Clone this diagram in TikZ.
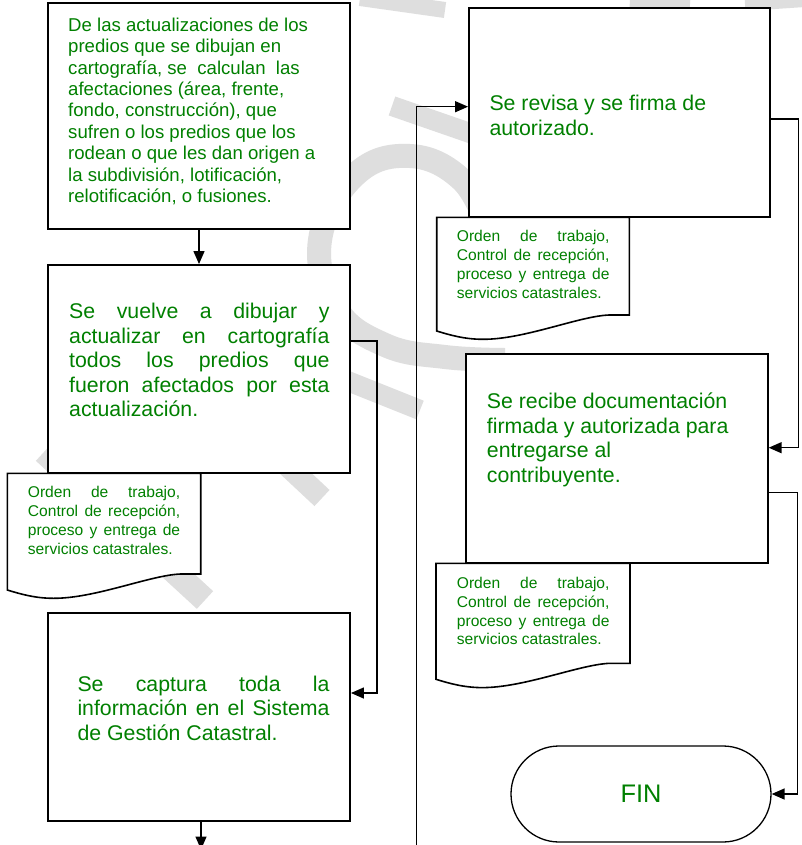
\documentclass[tikz,border=0pt]{standalone}
\usepackage{fontspec}
\setmainfont{Liberation Sans}
\usetikzlibrary{arrows.meta}
\definecolor{txtgreen}{RGB}{0,128,0}
\definecolor{wmgray}{RGB}{222,222,222}
\newcommand\myfA{\fontsize{18.6pt}{21.4pt}\selectfont}
\newcommand\myfB{\fontsize{21.3pt}{24.5pt}\selectfont}
\newcommand\myfC{\fontsize{15.6pt}{18.9pt}\selectfont}
\newcommand\myfD{\fontsize{25.4pt}{30pt}\selectfont}
% document shape: L, T, R, yR
\newcommand\mydocshape[4]{%
  \draw[docs] (#1,#2) -- (#3,#2) -- (#3,#4) -- ({#3-20},#4)
    .. controls ({#3-50},{#4+1}) and ({#1+88},{#4+24.5}) .. ({#1+46},{#4+24.3})
    .. controls ({#1+28},{#4+24.3}) and ({#1+13},{#4+20}) .. (#1,{#4+16}) -- cycle;}
\begin{document}
\begin{tikzpicture}[x=1pt,y=-1pt,
  box/.style={draw=black,line width=1.9pt,fill=white,inner sep=0pt},
  txt/.style={inner sep=0pt,anchor=base west,text=txtgreen},
  conn/.style={draw=black,line width=1.4pt},
  arr/.style={conn,-{Triangle[length=13pt,width=11pt]}},
  docs/.style={draw=black,line width=1.6pt,fill=white},
  wm/.style={draw=wmgray,line width=24pt}]
\useasboundingbox (0,0) rectangle (801,845);
\fill[white] (0,0) rectangle (801,845);

% watermark strokes
\draw[wm] plot[smooth,tension=0.7] coordinates {(488,228) (462,180) (410,156) (355,175) (320,240) (336,308) (385,345) (445,357) (505,360)};
\draw[wm,line width=20pt] (392,106) -- (490,140);
\draw[wm,line width=20pt] (300,362) -- (420,410);
\draw[wm] (44,452) -- (205,600);
\draw[wm,line width=22pt] (260,440) -- (322,498);
\draw[wm,line width=16pt] (360,-2) -- (445,10);
\draw[wm,line width=14pt] (630,0) -- (690,4);
\draw[wm,line width=14pt] (745,4) -- (805,0);

% process boxes
\node[box,minimum width=302pt,minimum height=226pt] (box1) at (199,116) {};
\node[box,minimum width=302pt,minimum height=208pt] (box2) at (199,369) {};
\node[box,minimum width=302pt,minimum height=208pt] (box4) at (199,717) {};
\node[box,minimum width=301pt,minimum height=209pt] (box3) at (619.5,112.5) {};
\node[box,minimum width=301.7pt,minimum height=209pt] (box5) at (616.85,458.8) {};
\node[draw=black,line width=1.3pt,fill=white,rounded corners=48pt,minimum width=260pt,minimum height=96pt,inner sep=0pt,text=txtgreen,font=\myfD] (fin) at (641,794) {FIN};

% document shapes
\mydocshape{7.3}{473.3}{200.7}{574}
\mydocshape{436.7}{217.3}{629.3}{315}
\mydocshape{436}{563.3}{630}{663.3}

% connectors
\coordinate (k1) at (377,341);
\coordinate (k2) at (377,693);
\coordinate (k3) at (798.3,119);
\coordinate (k4) at (798.3,447.7);
\coordinate (k5) at (797.3,492.7);
\coordinate (k6) at (797.3,794);
\coordinate (k7) at (416.7,852);
\coordinate (k8) at (416.7,106.7);
\coordinate (k9) at (201,849.5);
\draw[arr] (box1.south) -- (box2.north);
\draw[arr] (box2.east |- k1) -- (k1) -- (k2) -- (k2 -| box4.east);
\draw[arr] (box3.east |- k3) -- (k3) -- (k4) -- (k4 -| box5.east);
\draw[arr] (box5.east |- k5) -- (k5) -- (k6) -- (fin.east);
\draw[arr] (k7) -- (k8) -- (k8 -| box3.west);
\draw[arr] (box4.south -| k9) -- (k9);

% texts
\node[txt,font=\myfA] (t1) at (68,31.3) {\parbox[t]{285pt}{%
De las actualizaciones de los\\
predios que se dibujan en\\
cartografía, se\ \ calculan\ \ las\\
afectaciones (área, frente,\\
fondo, construcción), que\\
sufren o los predios que los\\
rodean o que les dan origen a\\
la subdivisión, lotificación,\\
relotificación, o fusiones.}};

\node[txt,font=\myfB] (t2) at (69,318.5) {\parbox[t]{260.3pt}{%
\makebox[260.3pt][s]{Se vuelve a dibujar y}\\
\makebox[260.3pt][s]{actualizar en cartografía}\\
\makebox[260.3pt][s]{todos los predios que}\\
\makebox[260.3pt][s]{fueron afectados por esta}\\
actualización.}};

\node[txt,font=\myfB] (t4) at (77.3,691) {\parbox[t]{252pt}{%
\makebox[252pt][s]{Se captura toda la}\\
\makebox[252pt][s]{información en el Sistema}\\
de Gestión Catastral.}};

\node[txt,font=\myfB] (t3) at (489.3,111) {\parbox[t]{270pt}{%
Se revisa y se firma de\\
autorizado.}};

\node[txt,font=\myfB] (t5) at (486.7,408.7) {\parbox[t]{275pt}{%
Se recibe documentación\\
firmada y autorizada para\\
entregarse al\\
contribuyente.}};

\node[txt,font=\myfC] (d1) at (27.7,497.8) {\parbox[t]{152.3pt}{%
\makebox[152.3pt][s]{Orden de trabajo,}\\
\makebox[152.3pt][s]{Control de recepción,}\\
\makebox[152.3pt][s]{proceso y entrega de}\\
servicios catastrales.}};

\node[txt,font=\myfC] (d2) at (456.7,241.8) {\parbox[t]{152.6pt}{%
\makebox[152.6pt][s]{Orden de trabajo,}\\
\makebox[152.6pt][s]{Control de recepción,}\\
\makebox[152.6pt][s]{proceso y entrega de}\\
servicios catastrales.}};

\node[txt,font=\myfC] (d3) at (456.7,588.2) {\parbox[t]{152.6pt}{%
\makebox[152.6pt][s]{Orden de trabajo,}\\
\makebox[152.6pt][s]{Control de recepción,}\\
\makebox[152.6pt][s]{proceso y entrega de}\\
servicios catastrales.}};
\end{tikzpicture}
\end{document}
